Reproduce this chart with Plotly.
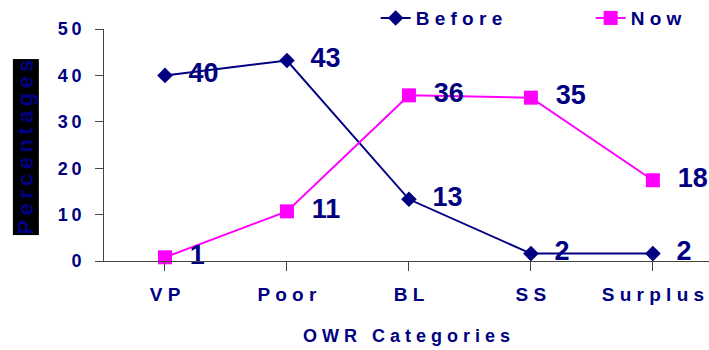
import plotly.graph_objects as go

categories = ["VP", "Poor", "BL", "SS", "Surplus"]
category_labels = ["V P", "P o o r", "B L", "S S", "S u r p l u s"]
before_values = [40.0, 43.2, 13.3, 1.6, 1.6]
now_values = [0.8, 10.7, 35.7, 35.2, 17.4]
before_labels = ["40", "43", "13", "2", "2"]
now_labels = ["1", "11", "36", "35", "18"]
y_tick_vals = [0, 10, 20, 30, 40, 50]
y_tick_text = ["0", "1\u20090", "2\u20090", "3\u20090", "4\u20090", "5\u20090"]

NAVY = "#000080"
MAGENTA = "#FF00FF"
FONT = "Arial, Liberation Sans, sans-serif"

x_idx = list(range(len(categories)))

fig = go.Figure()
fig.add_trace(go.Scatter(
    x=x_idx, y=before_values, name="B e f o r e",
    mode="lines+markers+text",
    line=dict(color=NAVY, width=2),
    marker=dict(symbol="diamond", size=12, color=NAVY),
    text=["  " + t for t in before_labels], textposition="middle right",
    textfont=dict(family=FONT, size=27, color=NAVY, weight="bold"),
    cliponaxis=False,
))
fig.add_trace(go.Scatter(
    x=x_idx, y=now_values, name="N o w",
    mode="lines+markers+text",
    line=dict(color=MAGENTA, width=2),
    marker=dict(symbol="square", size=14, color=MAGENTA),
    text=["  " + t for t in now_labels], textposition="middle right",
    textfont=dict(family=FONT, size=27, color=NAVY, weight="bold"),
    cliponaxis=False,
))

fig.update_layout(
    width=709, height=350,
    margin=dict(l=104, r=0, t=29, b=89, autoexpand=False),
    paper_bgcolor="white", plot_bgcolor="white",
    font=dict(family=FONT, color=NAVY),
    showlegend=True,
    legend=dict(
        orientation="h", x=0.449, xanchor="left", y=1.047, yanchor="middle",
        font=dict(family=FONT, size=19, color=NAVY, weight="bold"),
        entrywidth=170, bgcolor="rgba(0,0,0,0)",
    ),
    xaxis=dict(
        range=[-0.5, 4.46], tickmode="array", tickvals=x_idx, ticktext=category_labels,
        tickson="boundaries", ticks="outside", ticklen=9, tickcolor="#444",
        showline=True, linecolor="#444", linewidth=1, showgrid=False, zeroline=False,
        tickfont=dict(family=FONT, size=19, color=NAVY, weight="bold"),
        ticklabelstandoff=7,
        title=dict(text="O W R   C a t e g o r i e s",
                   font=dict(family=FONT, size=18, color=NAVY, weight="bold"), standoff=25),
    ),
    yaxis=dict(
        range=[0, 50], tickmode="array", tickvals=y_tick_vals, ticktext=y_tick_text,
        ticks="outside", ticklen=8, tickcolor="#444",
        showline=True, linecolor="#444", linewidth=1, showgrid=False, zeroline=False,
        tickfont=dict(family=FONT, size=18, color=NAVY, weight="bold"),
        ticklabelstandoff=10,
    ),
    annotations=[dict(
        text="P\u2009e\u2009r\u2009c\u2009e\u2009n\u2009t\u2009a\u2009g\u2009e\u2009s",
        xref="paper", yref="paper",
        x=-0.1298, y=0.491, xanchor="center", yanchor="middle",
        textangle=-90, showarrow=False, bgcolor="black", borderpad=0,
        font=dict(family=FONT, size=22, color=NAVY, weight="bold"),
    )],
)

fig.write_html("out.html")
